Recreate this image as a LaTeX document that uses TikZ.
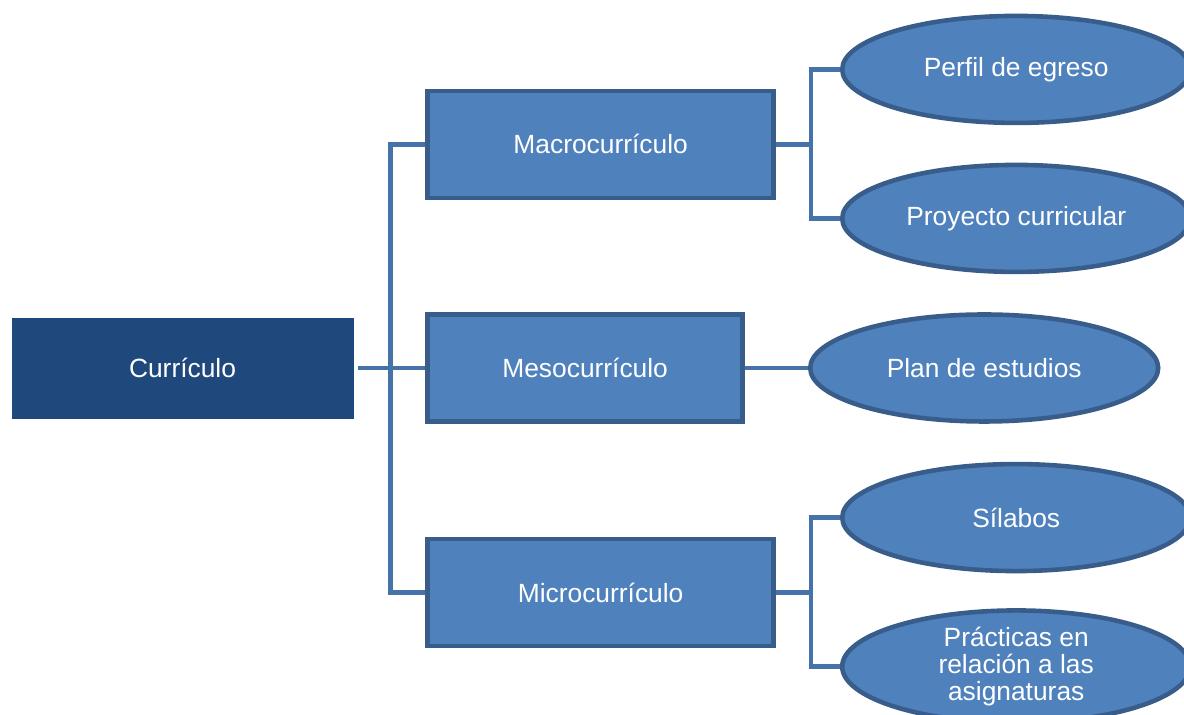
\documentclass[tikz,border=0pt]{standalone}
\usepackage{fontspec}
\setmainfont{Liberation Sans}
\usetikzlibrary{positioning, shapes.geometric}
\definecolor{currdark}{HTML}{1F497D}
\definecolor{boxfill}{HTML}{4F81BD}
\definecolor{boxline}{HTML}{385D8A}
\definecolor{linkline}{HTML}{4672AA}
\tikzset{
  rootbox/.style={
    minimum width=6.82cm,
    minimum height=2cm,
    align=center,
    fill=currdark,
    draw=currdark,
    text=white,
    font={\fontsize{15}{15.5}\selectfont}
  },
  levelbox/.style={
    minimum height=2.14cm,
    align=center,
    fill=boxfill,
    draw=boxline,
    line width=2.6pt,
    text=white,
    font={\fontsize{15}{15.5}\selectfont}
  },
  item/.style={
    ellipse,
    inner sep=0pt,
    minimum width=6.96cm,
    minimum height=2.14cm,
    align=center,
    fill=boxfill,
    draw=boxline,
    line width=2.6pt,
    text=white,
    font={\fontsize{15}{15.5}\selectfont}
  },
  link/.style={draw=linkline, line width=2.5pt}
}
\begin{document}
\begin{tikzpicture}
  \useasboundingbox (0,0) rectangle (23.68,14.3);
  \node (curr) [rootbox] at (3.65, 6.94) {Currículo};
  \node (meso) [levelbox, minimum width=6.3cm, right=1.44cm of curr] {Mesocurrículo};
  \node (macro) [levelbox, minimum width=6.92cm, above right=2.24cm and 0cm of meso.north west] {Macrocurrículo};
  \node (micro) [levelbox, minimum width=6.92cm, below right=2.26cm and 0cm of meso.south west] {Microcurrículo};
  \node (plan) [item, right=1.26cm of meso] {Plan de estudios};
  \node (perfil) [item, right=1.28cm of macro.east, yshift=1.5cm] {Perfil de egreso};
  \node (proyecto) [item, right=1.28cm of macro.east, yshift=-1.48cm] {Proyecto curricular};
  \node (silabos) [item, right=1.28cm of micro.east, yshift=1.5cm] {Sílabos};
  \node (practicas) [item, right=1.28cm of micro.east, yshift=-1.48cm] {Prácticas en\\relación a las\\asignaturas};
  % trunk
  \coordinate (trunk) at ([xshift=-0.7cm]meso.west);
  \coordinate (mj) at ([xshift=0.7cm]macro.east);
  \coordinate (ij) at ([xshift=0.7cm]micro.east);
  \draw [link] ([xshift=1mm]curr.east) -- (meso.west);
  \draw [link] (macro.west) -| (trunk) |- (micro.west);
  % branches
  \draw [link] (macro.east) -- (mj);
  \draw [link] (perfil.west) -| (mj) |- (proyecto.west);
  \draw [link] (meso.east) -- (plan.west);
  \draw [link] (micro.east) -- (ij);
  \draw [link] (silabos.west) -| (ij) |- (practicas.west);
\end{tikzpicture}
\end{document}
